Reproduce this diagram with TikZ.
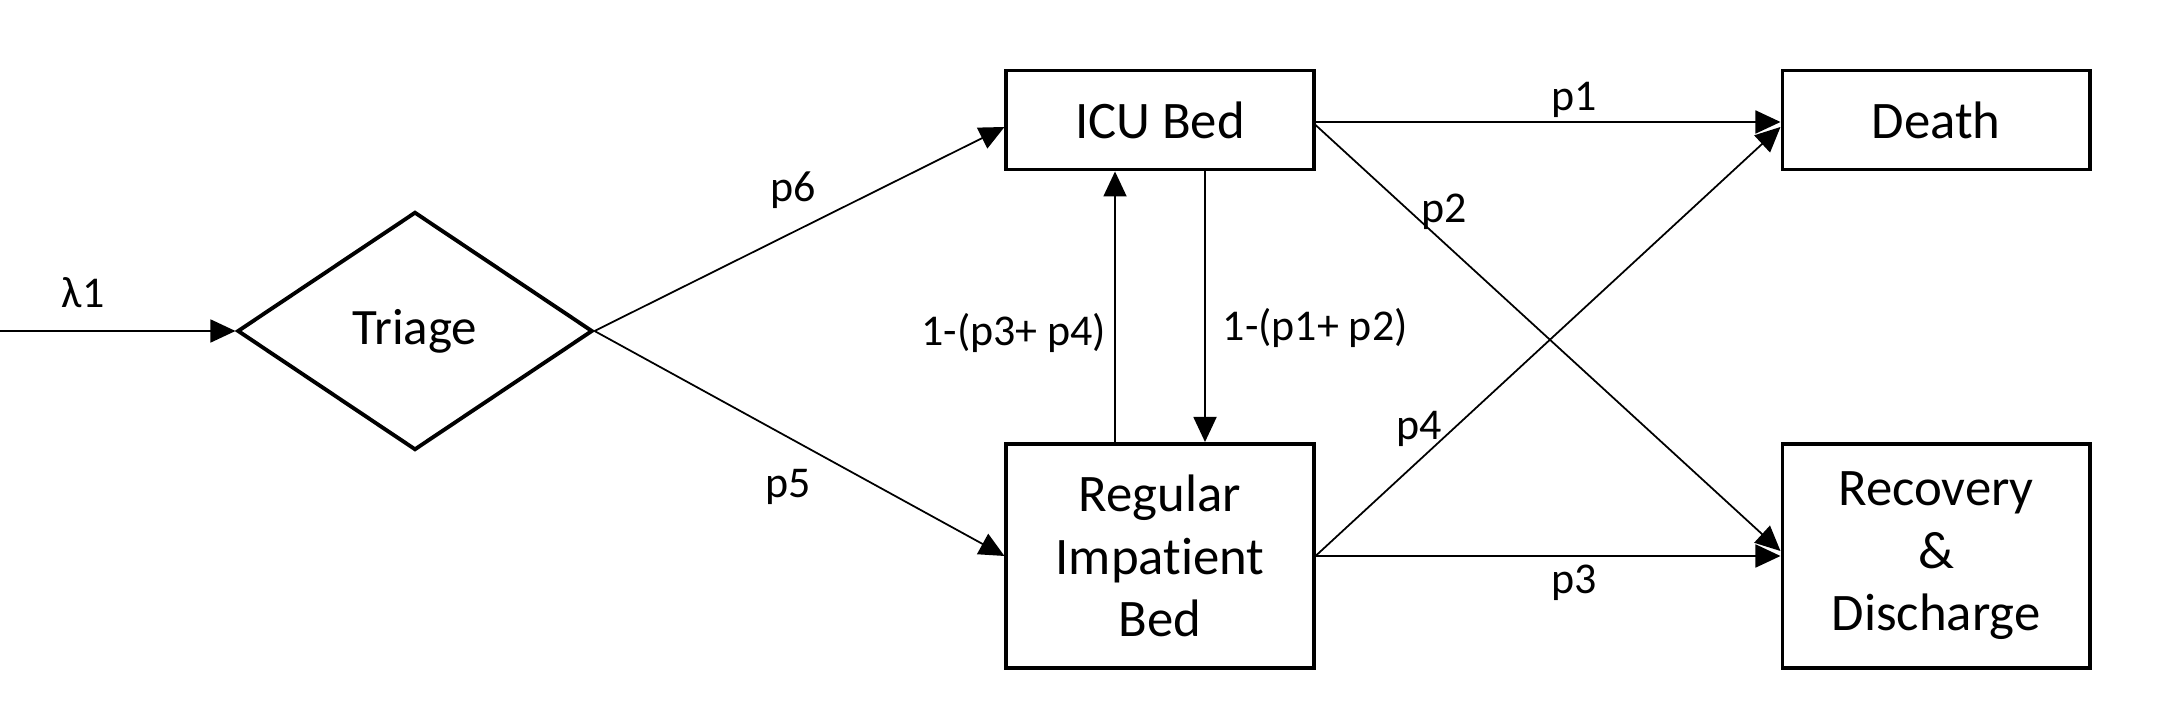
\documentclass[tikz,border=0pt]{standalone}
\usepackage{fontspec}
\setmainfont{Carlito}[Ligatures={NoCommon,NoContextual}]
\usetikzlibrary{shapes.geometric,arrows.meta,calc}
\begin{document}
\begin{tikzpicture}[x=0.01cm,y=-0.01cm,
  box/.style={draw,line width=1.1pt,minimum width=3.07cm,inner sep=0pt,align=center,font=\fontsize{15}{17.8}\selectfont},
  conn/.style={line width=0.5pt,-{Triangle[length=0.25cm,width=0.23cm]}},
  lab/.style={font=\fontsize{12.5}{15}\selectfont,inner sep=0pt}]
\fill[white] (0,0) rectangle (2170,728);
\useasboundingbox (0,0) rectangle (2170,728);
\node[box,minimum height=0.99cm] (icu) at (1160,120) {ICU Bed};
\node[box,minimum height=0.99cm] (death) at (1936,120) {Death};
\node[box,minimum height=2.24cm] (reg) at (1160,556) {Regular\\Impatient\\Bed};
\node[box,minimum height=2.24cm] (rec) at (1936,556) {Recovery\\\&\\Discharge};
\node[draw,diamond,line width=1.1pt,inner sep=0pt,minimum width=3.55cm,minimum height=2.38cm,font=\fontsize{14.5}{18}\selectfont] (tri) at (415,331) {Triage};
\coordinate (in) at (0,331);
\draw[conn] (in) -- (tri.west);
\draw[conn] (tri.east) -- ($(icu.west)+(0,7)$);
\draw[conn] (tri.east) -- (reg.west);
\draw[conn] ($(reg.north)+(-45,0)$) -- ($(icu.south)+(-45,0)$);
\draw[conn] ($(icu.south)+(45,0)$) -- ($(reg.north)+(45,0)$);
\draw[conn] ($(icu.east)+(0,2)$) -- ($(death.west)+(0,2)$);
\draw[conn] ($(icu.east)+(0,5)$) -- ($(rec.west)+(0,-5)$);
\draw[conn] (reg.east) -- ($(death.west)+(0,7)$);
\draw[conn] (reg.east) -- (rec.west);
\node[lab] (l0) at (83,293) {λ1};
\node[lab] (l6) at (793,190) {p6};
\node[lab] (l5) at (788,487) {p5};
\node[lab,anchor=east] (l34) at (1107,333) {1-(p3+ p4)};
\node[lab,anchor=west] (l12) at (1222,328) {1-(p1+ p2)};
\node[lab] (l1) at (1574,100) {p1};
\node[lab] (l2) at (1444,212) {p2};
\node[lab] (l4) at (1419,429) {p4};
\node[lab] (l3) at (1574,583) {p3};
\end{tikzpicture}
\end{document}
